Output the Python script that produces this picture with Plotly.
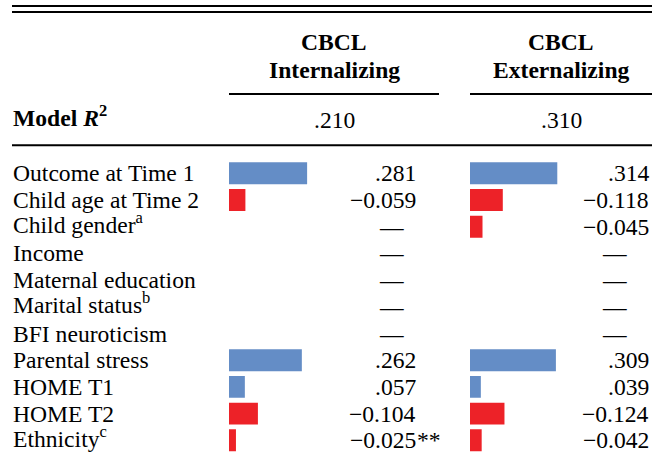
import plotly.graph_objects as go

# ---------------- data ----------------
predictors = ["Outcome at Time 1", "Child age at Time 2", "Child gender", "Income",
              "Maternal education", "Marital status", "BFI neuroticism",
              "Parental stress", "HOME T1", "HOME T2", "Ethnicity"]
footnotes = ["", "", "a", "", "", "b", "", "", "", "", "c"]

outcome_group = ["CBCL", "CBCL"]
outcome_names = ["Internalizing", "Externalizing"]
model_r2 = [0.210, 0.310]

internalizing = [0.281, -0.059, None, None, None, None, None, 0.262, 0.057, -0.104, -0.025]
externalizing = [0.314, -0.118, -0.045, None, None, None, None, 0.309, 0.039, -0.124, -0.042]
internalizing_sig = ["", "", "", "", "", "", "", "", "", "", "**"]
externalizing_sig = ["", "", "", "", "", "", "", "", "", "", ""]

# ---------------- styling / layout ----------------
W, H = 663, 463
FONT = "Liberation Serif, Times New Roman, Times, serif"
FS = 23.6
POS_COLOR = "#648DC6"
NEG_COLOR = "#ED2228"
PX_PER_UNIT = 278.0
SUP_SHIFT = 3.5  # compensates the taller text box of labels with a superscript

def fx(px):
    return px / W

def fy(py):
    return 1 - py / H

def fmt(v):
    if v is None:
        return "\u2014"
    if v < 0:
        return "\u2212" + f"{abs(v):.3f}"
    return f"{v:.3f}".lstrip("0")

columns = [
    dict(axis="x", values=internalizing, sig=internalizing_sig,
         left=229, right=439, num_right=418, dash_center=391, head_center=334),
    dict(axis="x2", values=externalizing, sig=externalizing_sig,
         left=470, right=652, num_right=651, dash_center=614, head_center=561),
]

row_top, row_bottom = 159.95, 453.65

fig = go.Figure()
annotations = []
shapes = []

def txt_font():
    return dict(family=FONT, size=FS, color="black")

for ci, col in enumerate(columns):
    vals = col["values"]
    fig.add_trace(go.Bar(
        orientation="h",
        y=predictors,
        x=[abs(v) if v is not None else None for v in vals],
        marker=dict(color=[(POS_COLOR if (v is not None and v >= 0) else NEG_COLOR) for v in vals],
                    line=dict(width=0)),
        width=0.82,
        xaxis=col["axis"], yaxis="y",
        hoverinfo="skip", showlegend=False,
    ))
    for p, v, s in zip(predictors, vals, col["sig"]):
        if v is None:
            annotations.append(dict(x=fx(col["dash_center"]), xref="paper", y=p, yref="y",
                                    text=fmt(v), showarrow=False, xanchor="center", yanchor="middle",
                                    font=txt_font()))
        else:
            annotations.append(dict(x=fx(col["num_right"]), xref="paper", y=p, yref="y",
                                    text=fmt(v), showarrow=False, xanchor="right", yanchor="middle",
                                    font=txt_font()))
            if s:
                annotations.append(dict(x=fx(col["num_right"] - 3), xref="paper", y=p, yref="y",
                                        text=s, showarrow=False, xanchor="left", yanchor="middle",
                                        font=txt_font()))
    annotations.append(dict(x=fx(col["head_center"]), xref="paper", y=fy(42), yref="paper",
                            text=f"<b>{outcome_group[ci]}</b>", showarrow=False,
                            xanchor="center", yanchor="middle", font=txt_font()))
    annotations.append(dict(x=fx(col["head_center"]), xref="paper", y=fy(70), yref="paper",
                            text=f"<b>{outcome_names[ci]}</b>", showarrow=False,
                            xanchor="center", yanchor="middle", font=txt_font()))
    annotations.append(dict(x=fx(col["head_center"]), xref="paper", y=fy(120), yref="paper",
                            text=fmt(model_r2[ci]), showarrow=False,
                            xanchor="center", yanchor="middle", font=txt_font()))
    shapes.append(dict(type="line", xref="paper", yref="paper",
                       x0=fx(col["left"]), x1=fx(col["right"]), y0=fy(94), y1=fy(94),
                       line=dict(color="black", width=2)))

for p, f in zip(predictors, footnotes):
    label = p + (f"<sup>{f}</sup>" if f else "")
    annotations.append(dict(x=fx(11), xref="paper", y=p, yref="y", text=label,
                            showarrow=False, xanchor="left", yanchor="middle",
                            yshift=SUP_SHIFT if f else 0, font=txt_font()))

annotations.append(dict(x=fx(11), xref="paper", y=fy(120), yref="paper",
                        text="<b>Model <i>R</i><sup>2</sup></b>", showarrow=False,
                        xanchor="left", yanchor="middle", yshift=SUP_SHIFT, font=txt_font()))

for py in (5.9, 11.9, 145.3):
    shapes.append(dict(type="line", xref="paper", yref="paper",
                       x0=fx(12), x1=fx(652), y0=fy(py), y1=fy(py),
                       line=dict(color="black", width=2)))

axis_common = dict(showgrid=False, zeroline=False, showticklabels=False, showline=False,
                   ticks="", fixedrange=True)
fig.update_layout(
    width=W, height=H,
    margin=dict(l=0, r=0, t=0, b=0),
    paper_bgcolor="white", plot_bgcolor="rgba(0,0,0,0)",
    barmode="overlay",
    xaxis=dict(domain=[fx(columns[0]["left"]), fx(columns[0]["right"])],
               range=[0, (columns[0]["right"] - columns[0]["left"]) / PX_PER_UNIT], **axis_common),
    xaxis2=dict(domain=[fx(columns[1]["left"]), fx(columns[1]["right"])],
                range=[0, (columns[1]["right"] - columns[1]["left"]) / PX_PER_UNIT],
                anchor="y", **axis_common),
    yaxis=dict(domain=[fy(row_bottom), fy(row_top)], type="category",
               categoryorder="array", categoryarray=predictors,
               range=[len(predictors) - 0.5, -0.5], **axis_common),
    annotations=annotations,
    shapes=shapes,
    font=txt_font(),
)

fig.write_html("out.html", config={"displayModeBar": False},
               post_script="document.body.style.margin='0';document.body.style.overflow='hidden';")
